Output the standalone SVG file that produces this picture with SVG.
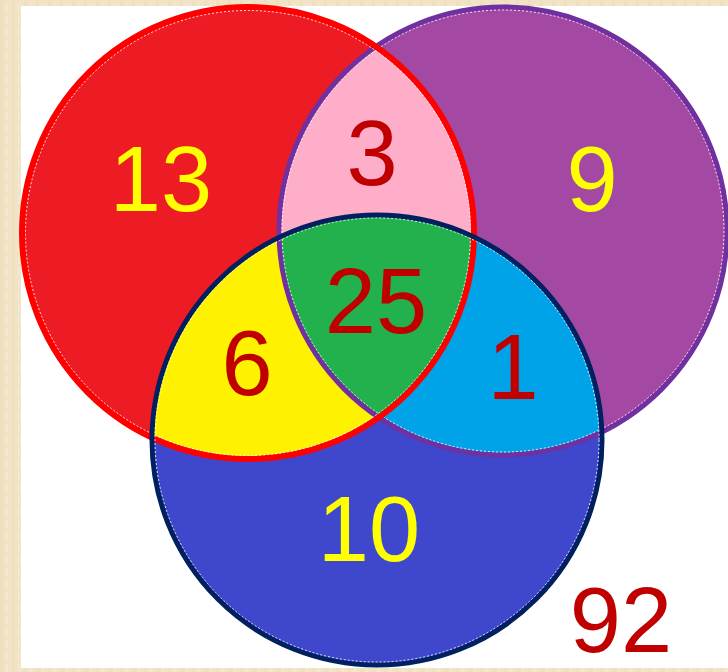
<svg xmlns="http://www.w3.org/2000/svg" width="728" height="672" viewBox="0 0 728 672">
  <style>
    .num { font-family: "Liberation Sans", Arial, sans-serif; font-size: 92px; text-anchor: middle; }
    .yel { fill: #FFFF00; }
    .red { fill: #C00000; }
    .dash { fill: none; stroke: #FFFFFF; stroke-width: 1; stroke-dasharray: 2 2; opacity: 0.85; }
  </style>
  <defs>
    <clipPath id="cRed"><circle cx="248" cy="233" r="226"/></clipPath>
    <clipPath id="cPur"><circle cx="503" cy="231" r="224"/></clipPath>
    <pattern id="parch" width="12" height="12" patternUnits="userSpaceOnUse">
      <rect width="12" height="12" fill="#F1E4C6"/>
      <rect x="0" y="0" width="3" height="12" fill="#ECDDBB" opacity="0.6"/>
      <rect x="6" y="4" width="2" height="8" fill="#F6ECD4" opacity="0.7"/>
    </pattern>
  </defs>
  <rect x="0" y="0" width="728" height="672" fill="url(#parch)"/>
  <rect x="21" y="6" width="707" height="662" fill="#FFFFFF"/>

  <g id="fills">
    <circle cx="248" cy="233" r="226" fill="#ED1C24"/>
    <circle cx="503" cy="231" r="224" fill="#A349A4"/>
    <circle cx="377" cy="440" r="225" fill="#3F48CC"/>
    <g clip-path="url(#cRed)">
      <circle cx="503" cy="231" r="224" fill="#FFAEC9"/>
      <circle cx="377" cy="440" r="225" fill="#FFF200"/>
    </g>
    <g clip-path="url(#cPur)">
      <circle cx="377" cy="440" r="225" fill="#00A2E8"/>
      <g clip-path="url(#cRed)">
        <circle cx="377" cy="440" r="225" fill="#22B14C"/>
      </g>
    </g>
  </g>

  <g id="outlines">
    <g id="setB">
      <circle cx="503" cy="231" r="224" fill="none" stroke="#7030A0" stroke-width="5"/>
      <circle cx="503" cy="231" r="221" class="dash"/>
    </g>
    <g id="setA">
      <circle cx="248" cy="233" r="226" fill="none" stroke="#FF0000" stroke-width="6"/>
      <circle cx="248" cy="233" r="222.5" class="dash"/>
    </g>
    <g id="setC">
      <circle cx="377" cy="440" r="225" fill="none" stroke="#002060" stroke-width="5"/>
      <circle cx="377" cy="440" r="222" class="dash"/>
    </g>
  </g>

  <g id="labels">
    <text class="num yel" x="161" y="211">13</text>
    <text class="num red" x="372" y="185">3</text>
    <text class="num yel" x="592" y="211">9</text>
    <text class="num red" x="376" y="333">25</text>
    <text class="num red" x="247" y="395">6</text>
    <text class="num red" x="513" y="399">1</text>
    <text class="num yel" x="369" y="561">10</text>
    <text class="num red" x="621" y="652">92</text>
  </g>
</svg>
